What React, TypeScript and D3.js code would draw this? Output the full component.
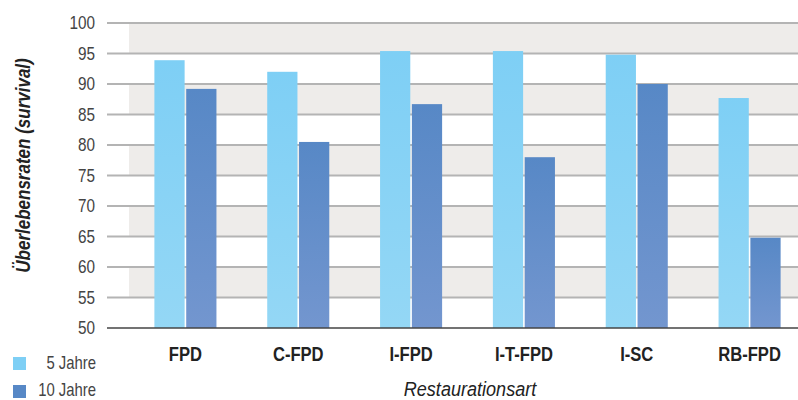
import { useMemo } from 'react';
import * as d3 from 'd3';

const categories = ['FPD', 'C-FPD', 'I-FPD', 'I-T-FPD', 'I-SC', 'RB-FPD'];
const series = ['5 Jahre', '10 Jahre'];
const fiveYears = [93.9, 92.0, 95.4, 95.4, 94.8, 87.7];
const tenYears = [89.2, 80.5, 86.7, 78.0, 90.0, 64.8];
const yTicks = [50, 55, 60, 65, 70, 75, 80, 85, 90, 95, 100];

const width = 798;
const height = 400;
const plot = { left: 107, bandLeft: 129, right: 798, top: 23, bottom: 328 };
const font = '"Liberation Sans", Arial, sans-serif';

const colors = [
  { id: 'g5', top: '#7ecff5', bottom: '#94d7f5' },
  { id: 'g10', top: '#5788c6', bottom: '#7396cf' },
];

// condensed text: Liberation Sans squeezed horizontally
type TxtProps = {
  x: number;
  y: number;
  rotate?: number;
  sx?: number;
  anchor?: 'start' | 'middle' | 'end';
  size: number;
  weight?: string;
  italic?: boolean;
  fill?: string;
  children: string | number;
};
const Txt = ({ x, y, rotate = 0, sx = 0.82, anchor = 'middle', size, weight = 'normal', italic = false, fill = '#222', children }: TxtProps) => (
  <g transform={`translate(${x},${y}) rotate(${rotate}) scale(${sx},1)`}>
    <text
      dy="0.35em"
      textAnchor={anchor}
      fontFamily={font}
      fontSize={size}
      fontWeight={weight}
      fontStyle={italic ? 'italic' : 'normal'}
      fill={fill}
    >
      {children}
    </text>
  </g>
);

export default function App() {
  const yScale = useMemo(
    () => d3.scaleLinear().domain([50, 100]).range([plot.bottom, plot.top]),
    []
  );
  const xScale = useMemo(
    () => d3.scaleBand().domain(categories).range([plot.bandLeft, 806]).paddingInner(0.45).paddingOuter(0.225),
    []
  );
  const inner = useMemo(
    () => d3.scaleBand().domain(series).range([0, xScale.bandwidth()]).paddingInner(0.05),
    [xScale]
  );
  const values = [fiveYears, tenYears];

  return (
    <svg width={width} height={height} style={{ position: 'absolute', left: 0, top: 0 }}>
      <defs>
        {colors.map((c) => (
          <linearGradient key={c.id} id={c.id} x1="0" y1="0" x2="0" y2="1">
            <stop offset="0" stopColor={c.top} />
            <stop offset="1" stopColor={c.bottom} />
          </linearGradient>
        ))}
      </defs>
      {/* alternating bands */}
      {yTicks.slice(0, -1).map((t, i) =>
        i % 2 === 1 ? (
          <rect
            key={t}
            x={plot.bandLeft}
            width={plot.right - plot.bandLeft}
            y={yScale(t + 5)}
            height={yScale(t) - yScale(t + 5)}
            fill="#eeecea"
          />
        ) : null
      )}
      {/* gridlines */}
      {yTicks.slice(1).map((t) => (
        <line key={t} x1={plot.left} x2={plot.right} y1={yScale(t)} y2={yScale(t)} stroke="#b4b4b4" strokeWidth={2} />
      ))}
      {/* bars */}
      {categories.map((c, i) => (
        <g key={c} transform={`translate(${xScale(c)},0)`}>
          {series.map((s, j) => (
            <rect
              key={s}
              x={inner(s)}
              width={inner.bandwidth()}
              y={yScale(values[j][i])}
              height={yScale(50) - yScale(values[j][i])}
              fill={`url(#${colors[j].id})`}
            />
          ))}
        </g>
      ))}
      <line x1={plot.left} x2={plot.right} y1={plot.bottom} y2={plot.bottom} stroke="#444" strokeWidth={1.5} />
      {/* y tick labels */}
      {yTicks.map((t) => (
        <Txt key={t} x={95} y={yScale(t)} anchor="end" size={18} sx={0.85} fill="#444">
          {t}
        </Txt>
      ))}
      {/* category labels */}
      {categories.map((c) => (
        <Txt key={c} x={(xScale(c) ?? 0) + xScale.bandwidth() / 2} y={353.5} size={21} sx={0.79} weight="bold" fill="#222">
          {c}
        </Txt>
      ))}
      <Txt x={470} y={388.5} size={21} sx={0.86} italic fill="#222">
        Restaurationsart
      </Txt>
      <Txt x={23} y={165.5} rotate={-90} size={21} sx={0.81} italic weight="bold" fill="#222">
        Überlebensraten (survival)
      </Txt>
      {/* legend */}
      {series.map((s, j) => (
        <g key={s}>
          <rect x={13} y={357 + j * 28} width={13} height={13} fill={colors[j].top} />
          <Txt x={96} y={363 + j * 27} anchor="end" size={17.5} sx={0.85} fill="#444">
            {s}
          </Txt>
        </g>
      ))}
    </svg>
  );
}
